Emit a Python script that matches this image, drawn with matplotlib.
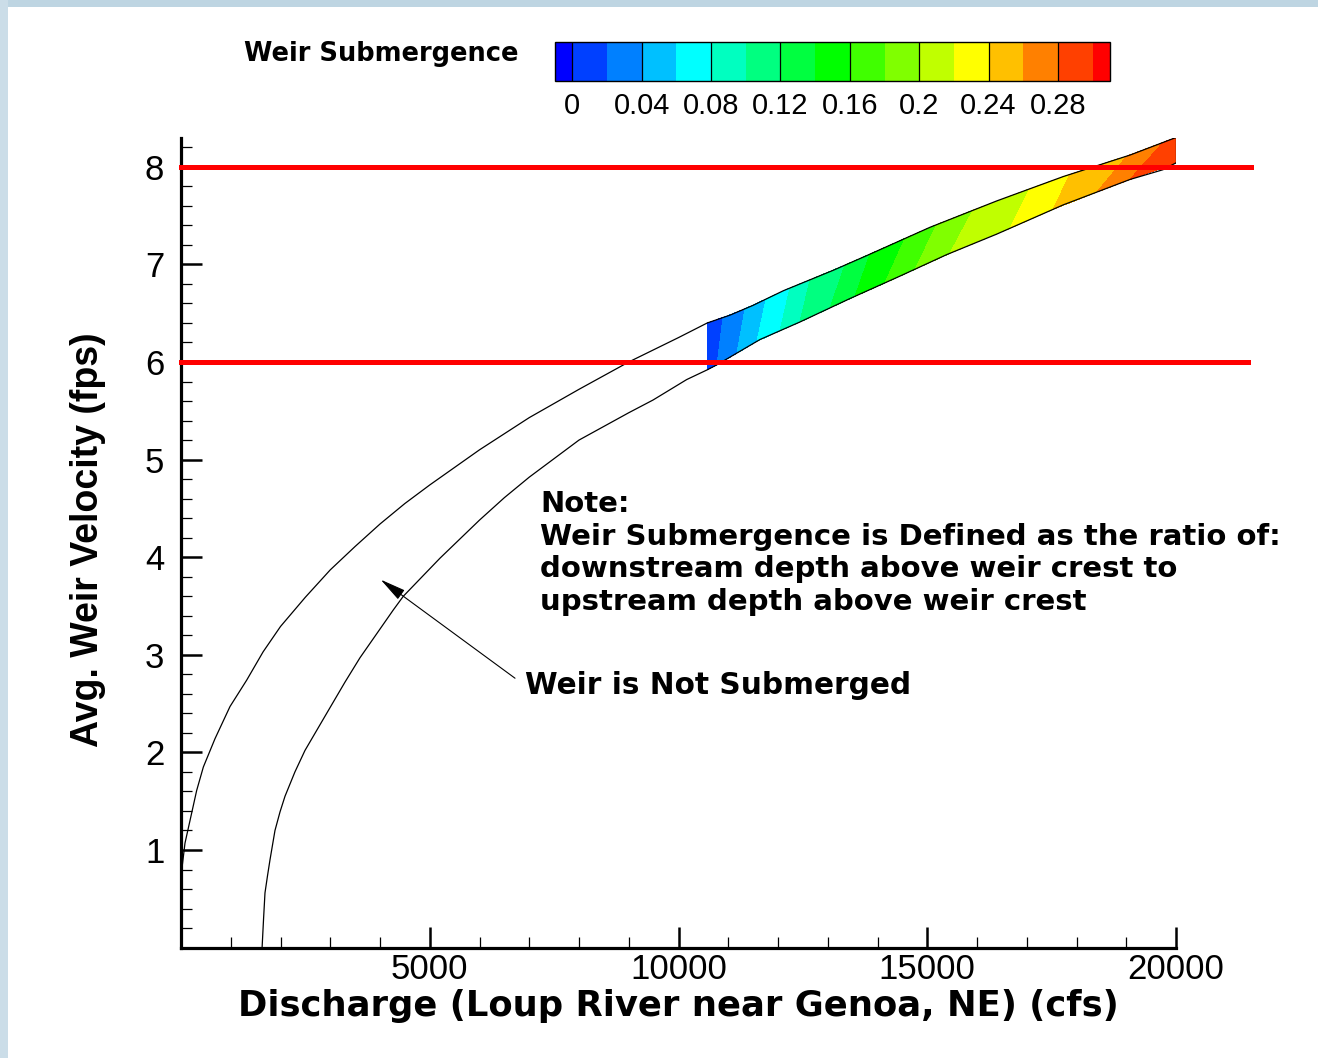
import matplotlib
matplotlib.use("Agg")
import matplotlib.pyplot as plt
from matplotlib.patches import Rectangle
import numpy as np

plt.rcParams['font.family'] = ['Liberation Sans', 'DejaVu Sans']
ANCHO = ['DejaVu Sans']  # letra ancha para los textos en negrita

# -------------------------
# Datos
# -------------------------
# curva superior (borde izquierdo / superior de la banda)
q_sup = [0, 14, 80, 215, 315, 449, 683, 985, 1320, 1650, 2000, 2500, 3000, 3500, 4000,
         4500, 5000, 6000, 7000, 8000, 9000, 10000, 10579, 11035, 11497, 12107, 13112,
         13783, 15055, 16396, 17735, 19075, 20000]
v_sup = [0.75, 0.79, 1.07, 1.38, 1.61, 1.85, 2.14, 2.47, 2.74, 3.03, 3.29, 3.59, 3.87, 4.11, 4.34,
         4.55, 4.74, 5.10, 5.43, 5.72, 6.00, 6.25, 6.40, 6.48, 6.58, 6.73, 6.94,
         7.09, 7.38, 7.65, 7.90, 8.12, 8.30]

# curva inferior (borde derecho / inferior de la banda)
q_inf = [1630, 1660, 1688, 1740, 1789, 1889, 1990, 2090, 2290, 2492, 2928, 3296, 3598,
         4268, 4469, 5206, 6000, 6500, 7000, 8000, 9000, 9487, 10165, 10579, 10767, 11035,
         11638, 12442, 13447, 14452, 15391, 16396, 17735, 19075, 19739, 20000]
v_inf = [0.0, 0.30, 0.56, 0.74, 0.90, 1.20, 1.39, 1.55, 1.80, 2.02, 2.40, 2.72, 2.97,
         3.46, 3.60, 3.99, 4.38, 4.61, 4.82, 5.20, 5.48, 5.61, 5.82, 5.92, 5.97, 6.05,
         6.23, 6.41, 6.65, 6.88, 7.10, 7.31, 7.61, 7.87, 7.97, 8.04]

# sumergencia en los bordes de la banda
banda_q_inf = [10579, 10774, 11176, 11578, 12040, 12442, 13045, 13548, 14151, 14754,
               15457, 16663, 17528, 18412, 19075, 20000]
banda_s_inf = [0.001, 0.02, 0.04, 0.06, 0.08, 0.10, 0.12, 0.14, 0.16, 0.18,
               0.20, 0.22, 0.24, 0.26, 0.28, 0.295]
banda_q_sup = [10579, 10894, 11337, 11759, 12241, 12643, 13347, 13849, 14553, 15196,
               15920, 17065, 17869, 19015, 19739, 20000]
banda_s_sup = [0.001, 0.02, 0.04, 0.06, 0.08, 0.10, 0.12, 0.14, 0.16, 0.18,
               0.20, 0.22, 0.24, 0.26, 0.28, 0.285]

niveles = [-0.01, 0.0, 0.02, 0.04, 0.06, 0.08, 0.10, 0.12, 0.14, 0.16, 0.18,
           0.20, 0.22, 0.24, 0.26, 0.28, 0.30, 0.31]
colores = ['#0000ff', '#0040ff', '#0080ff', '#00c0ff', '#00ffff', '#00ffc0',
           '#00ff80', '#00ff40', '#00ff00', '#40ff00', '#80ff00', '#c0ff00',
           '#ffff00', '#ffc000', '#ff8000', '#ff4000', '#ff0000']
ticks_barra = [0.0, 0.04, 0.08, 0.12, 0.16, 0.2, 0.24, 0.28]
etiquetas_barra = ['0', '0.04', '0.08', '0.12', '0.16', '0.2', '0.24', '0.28']

lineas_rojas_v = [8, 6]
lineas_rojas_fin = [21500, 21450]

x_ticks = [5000, 10000, 15000, 20000]
y_ticks = [1, 2, 3, 4, 5, 6, 7, 8]

# -------------------------
# Figura
# -------------------------
W, H = 1318, 1058
fig = plt.figure(figsize=(W / 100, H / 100), dpi=100)
fig.patch.set_facecolor('white')

# marco celeste (arriba e izquierda)
fig.patches.append(Rectangle((0, 1 - 7 / H), 1, 7 / H, transform=fig.transFigure,
                             facecolor='#bed5e2', edgecolor='none', zorder=0))
fig.patches.append(Rectangle((0, 0), 8 / W, 1, transform=fig.transFigure,
                             facecolor='#cbdde8', edgecolor='none', zorder=0))

ax = fig.add_axes([181 / W, 1 - 947.6 / H, (1176 - 181) / W, (947.6 - 137.5) / H])
ax.set_xlim(0, 20000)
ax.set_ylim(0, 8.3)

# banda coloreada
X = np.array([banda_q_inf, banda_q_sup], dtype=float)
Y = np.array([np.interp(banda_q_inf, q_inf, v_inf), np.interp(banda_q_sup, q_sup, v_sup)])
Z = np.array([banda_s_inf, banda_s_sup])
cf = ax.contourf(X, Y, Z, levels=niveles, colors=colores, zorder=2)

# curvas
ax.plot(q_sup, v_sup, color='black', lw=0.9, zorder=4)
ax.plot(q_inf, v_inf, color='black', lw=0.9, zorder=4)
ax.plot([q_sup[-1], q_inf[-1]], [v_sup[-1], v_inf[-1]], color='black', lw=0.9, zorder=4)

# lineas rojas
for v, fin in zip(lineas_rojas_v, lineas_rojas_fin):
    ax.plot([0, fin], [v, v], color='red', lw=3.6, clip_on=False, zorder=5)

# ejes
for s in ['top', 'right']:
    ax.spines[s].set_visible(False)
for s in ['left', 'bottom']:
    ax.spines[s].set_linewidth(2.3)
ax.set_xticks(x_ticks)
ax.set_yticks(y_ticks)
ax.set_xticks(np.arange(1000, 20001, 1000), minor=True)
ax.set_yticks(np.arange(0.2, 8.21, 0.2), minor=True)
ax.tick_params(which='major', direction='in', length=15, width=1.8, labelsize=25, pad=4)
ax.tick_params(which='minor', direction='in', length=8, width=0.9)
ax.tick_params(axis='y', which='major', pad=12)

ax.set_xlabel('Discharge (Loup River near Genoa, NE) (cfs)', fontsize=25.5,
              fontweight='bold', family=ANCHO)
ax.set_ylabel('Avg. Weir Velocity (fps)', fontsize=27, fontweight='bold')
ax.xaxis.set_label_coords(0.4995, -0.0715)
ax.xaxis.label.set_va('center')
ax.yaxis.set_label_coords(-0.0935, 0.503)
ax.yaxis.label.set_va('center')

# nota
nota = ('Note:\nWeir Submergence is Defined as the ratio of:\n'
        'downstream depth above weir crest to\nupstream depth above weir crest')
fig.text(540 / W, 1 - 490 / H, nota, fontsize=21, fontweight='bold', va='top',
         ha='left', linespacing=1.21, family=ANCHO)

# flecha
ax.annotate('', xy=(4014, 3.77), xytext=(6714, 2.76),
            arrowprops=dict(arrowstyle='-|>,head_length=1.6,head_width=0.35',
                            color='black', lw=0.8, shrinkA=0, shrinkB=0))
ax.text(6915, 2.69, 'Weir is Not Submerged', fontsize=21.3, fontweight='bold',
        ha='left', va='center', family=ANCHO)

# barra de colores
cax = fig.add_axes([555 / W, 1 - 81 / H, 555 / W, 39 / H])
cb = fig.colorbar(cf, cax=cax, orientation='horizontal', spacing='proportional',
                  ticks=ticks_barra)
cb.ax.set_xticklabels(etiquetas_barra)
cb.ax.tick_params(length=0, labelsize=21, pad=8)
cb.outline.set_linewidth(1.0)
for t in ticks_barra:
    cax.axvline(t, color='black', lw=0.9)
fig.text(381 / W, 1 - 54 / H, 'Weir Submergence', fontsize=18.5, fontweight='bold',
         ha='center', va='center', family=ANCHO)

fig.savefig('out.png', dpi=100)
